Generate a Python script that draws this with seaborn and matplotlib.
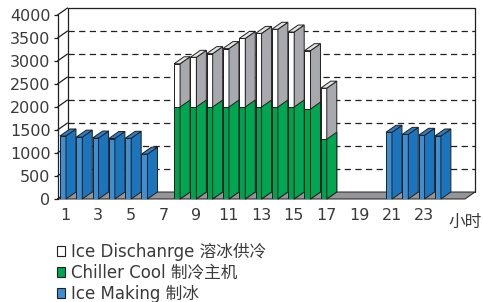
import matplotlib
matplotlib.use('Agg')
import matplotlib.pyplot as plt
from matplotlib.patches import Polygon, Patch
import pandas as pd
import seaborn as sns

# 数据 (小时 1-24)
hours = [str(h) for h in range(1, 25)]
ice_making = [1370, 1345, 1325, 1315, 1320, 975] + [0] * 14 + [1450, 1405, 1385, 1370]
chiller_cool = [0] * 7 + [2000, 2000, 2000, 2000, 2000, 2000, 2000, 2000, 1955, 1300] + [0] * 7
ice_discharge = [0] * 7 + [940, 1080, 1160, 1270, 1490, 1600, 1690, 1630, 1270, 1110] + [0] * 7
y_ticks = [0, 500, 1000, 1500, 2000, 2500, 3000, 3500, 4000]
x_labels = ['1', '3', '5', '7', '9', '11', '13', '15', '17', '19', '21', '23']
legend_labels = ['Ice Dischanrge 溶冰供冷', 'Chiller Cool 制冷主机', 'Ice Making 制冰']

df = pd.DataFrame({'hour': hours, 'ice': ice_making, 'chiller': chiller_cool,
                   'total': [c + d for c, d in zip(chiller_cool, ice_discharge)]})

sns.set_style('white')
plt.rcParams['font.family'] = ['DejaVu Sans', 'Noto Sans CJK SC']

edge = '#231f20'
text_c = '#3a3a3a'
lw = 0.7

fig = plt.figure(figsize=(4.83, 3.02), dpi=100)
ax = fig.add_axes([57.5 / 483, 103 / 302, 407.5 / 483, 184 / 302])
ax.set_xlim(-0.5, 24.5)
ax.set_ylim(0, 4000)

# 3D 深度 (像素 -> 数据单位)
fig.canvas.draw()
p0 = ax.transData.transform((0, 0))
dpt = ax.transData.inverted().transform(p0 + [10, 7])
ddx, ddy = dpt[0], dpt[1]
xmin, xmax = ax.get_xlim()


def draw_bars(col, front, side, top, zoff, with_top=True):
    n0 = len(ax.patches)
    sns.barplot(data=df, x='hour', y=col, order=hours, color=front, saturation=1,
                width=0.37, edgecolor=edge, linewidth=lw, ax=ax)
    bars = ax.patches[n0:]
    for i, p in enumerate(bars):
        p.set_x(p.get_x() - 0.165)
        z = 3 + i * 0.1 + zoff
        p.set_zorder(z)
        h = p.get_height()
        if h <= 0:
            p.set_visible(False)
            continue
        x0, x1 = p.get_x(), p.get_x() + p.get_width()
        y0, y1 = p.get_y(), p.get_y() + h
        ax.add_patch(Polygon([(x1, y0), (x1 + ddx, y0 + ddy), (x1 + ddx, y1 + ddy), (x1, y1)],
                             fc=side, ec=edge, lw=lw, zorder=z, clip_on=False))
        if with_top:
            ax.add_patch(Polygon([(x0, y1), (x1, y1), (x1 + ddx, y1 + ddy), (x0 + ddx, y1 + ddy)],
                                 fc=top, ec=edge, lw=lw, zorder=z, clip_on=False))


draw_bars('total', 'white', '#a7a9ac', '#e3e4e5', 0.0)
draw_bars('chiller', '#00a14e', '#00a651', '#00a651', 0.01, with_top=False)
draw_bars('ice', '#3d8fd1', '#1c75bc', '#2a7fc6', 0.0)

# 背景墙与地面
for y in y_ticks[1:-1]:
    ax.plot([xmin + ddx, xmax + ddx], [y + ddy, y + ddy], color=edge, lw=0.9,
            ls=(0, (5, 3.5)), zorder=1, clip_on=False)
ax.plot([xmin + ddx, xmax + ddx, xmax + ddx], [4000 + ddy, 4000 + ddy, ddy],
        color=edge, lw=0.9, zorder=1, clip_on=False)
ax.plot([xmin + ddx, xmin + ddx], [ddy, 4000 + ddy], color=edge, lw=0.9, zorder=1, clip_on=False)
ax.plot([xmin, xmin], [0, 4000], color=edge, lw=0.9, zorder=1, clip_on=False)
for y in y_ticks:
    ax.plot([xmin, xmin + ddx], [y, y + ddy], color=edge, lw=0.9, zorder=1, clip_on=False)
ax.add_patch(Polygon([(xmin, 0), (xmax, 0), (xmax + ddx, ddy), (xmin + ddx, ddy)],
                     fc='#939598', ec=edge, lw=lw, zorder=2, clip_on=False))

for s in ax.spines.values():
    s.set_visible(False)
ax.set_xlabel('')
ax.set_ylabel('')
ax.set_yticks(y_ticks)
ax.set_yticklabels([str(v) for v in y_ticks])
ax.set_xticks(range(0, 24, 2))
ax.set_xticklabels(x_labels)
ax.set_xticks([i - 0.5 for i in range(26)], minor=True)
ax.tick_params(axis='x', which='major', length=0, pad=6.5, labelsize=11.5, labelcolor=text_c)
ax.tick_params(axis='x', which='minor', length=3.5, width=0.9, color=edge, direction='out')
ax.tick_params(axis='y', length=3, width=0.9, color=edge, pad=2, labelsize=11.5,
               labelcolor=text_c, left=True)
ax.annotate('小时', xy=(1, 0), xycoords='axes fraction', xytext=(0, -10),
            textcoords='offset points', ha='center', va='top', fontsize=12, color=text_c)

handles = [Patch(fc='white', ec=edge, lw=0.8),
           Patch(fc='#00a651', ec=edge, lw=0.8),
           Patch(fc='#3d8fd1', ec=edge, lw=0.8)]
leg = fig.legend(handles, legend_labels, loc='upper left', bbox_to_anchor=(57 / 483, 1 - 243 / 302),
                 frameon=False, fontsize=12, handlelength=0.5, handleheight=0.5,
                 handletextpad=0.35, labelspacing=0.17, borderpad=0, borderaxespad=0)
for t in leg.get_texts():
    t.set_color(text_c)

fig.savefig('out.png', dpi=100)
